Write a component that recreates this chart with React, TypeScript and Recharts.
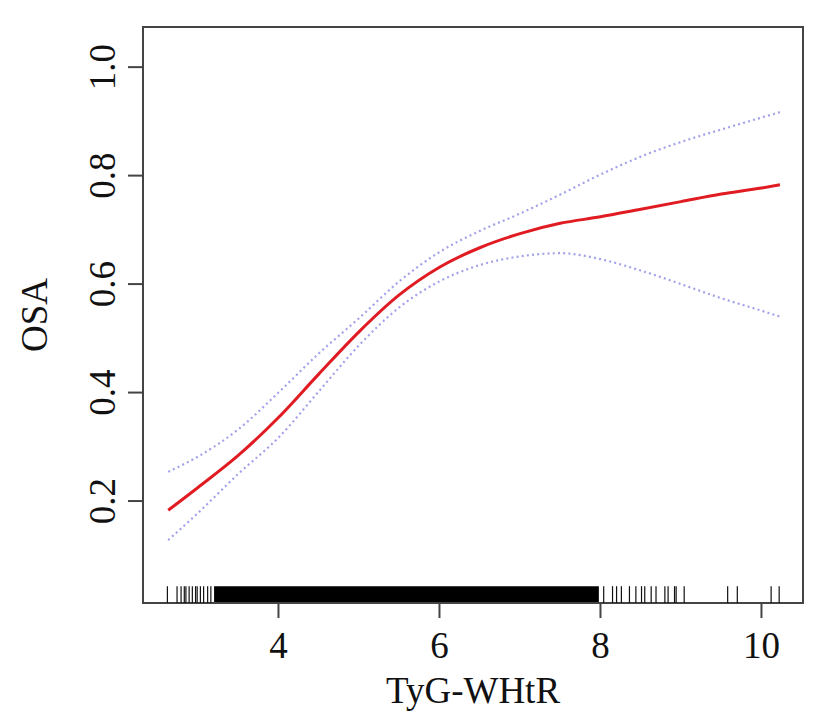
import { LineChart, Line, XAxis, YAxis, ReferenceArea, ReferenceLine } from 'recharts';

// x positions of the fitted curve (TyG-WHtR)
const xValues = [2.63, 3.0, 3.5, 4.0, 4.5, 5.0, 5.5, 6.0, 6.5, 7.0, 7.5, 8.0, 8.5, 9.0, 9.5, 10.0, 10.23];
// estimated probability of OSA
const fitValues = [0.183, 0.225, 0.284, 0.354, 0.434, 0.512, 0.58, 0.631, 0.667, 0.693, 0.712, 0.724, 0.738, 0.752, 0.766, 0.777, 0.783];
// 95% confidence band
const upperValues = [0.254, 0.282, 0.332, 0.4, 0.472, 0.537, 0.605, 0.659, 0.698, 0.73, 0.765, 0.802, 0.835, 0.862, 0.885, 0.907, 0.917];
const lowerValues = [0.128, 0.178, 0.25, 0.317, 0.402, 0.487, 0.557, 0.605, 0.635, 0.651, 0.657, 0.646, 0.625, 0.6, 0.574, 0.551, 0.54];

// rug: isolated observations, plus the range where they run together
const rugLeft = [2.62, 2.74, 2.79, 2.83, 2.85, 2.89, 2.93, 2.97, 2.99, 3.03, 3.07, 3.12, 3.16];
const rugRight = [8.04, 8.15, 8.2, 8.26, 8.36, 8.44, 8.51, 8.55, 8.63, 8.69, 8.8, 8.84, 8.92, 8.94, 9.04, 9.58, 9.7, 10.12, 10.22];
const rugDense = [3.2, 7.98];

const xTicks = [4, 6, 8, 10];
const yTicks = [0.2, 0.4, 0.6, 0.8, 1.0];

const X_MIN = 2.317;
const X_MAX = 10.516;
const Y_MIN = 0.012;
const Y_MAX = 1.074;
const RUG_TOP = 0.043;

const FONT = '"Liberation Serif", "Times New Roman", serif';

const data = xValues.map((x, i) => ({
  x,
  fit: fitValues[i],
  upper: upperValues[i],
  lower: lowerValues[i],
}));

const XTick = (props: any) => {
  const { x, y, payload } = props;
  return (
    <text x={x} y={y + 38} textAnchor="middle" fontFamily={FONT} fontSize={37} fill="#111">
      {payload.value}
    </text>
  );
};

const YTick = (props: any) => {
  const { x, y, payload } = props;
  const px = x - 11;
  return (
    <text x={px} y={y} transform={`rotate(-90, ${px}, ${y})`} textAnchor="middle" fontFamily={FONT} fontSize={37} fill="#111">
      {payload.value.toFixed(1)}
    </text>
  );
};

export default function App() {
  return (
    <div style={{ position: 'absolute', left: 0, top: 0, background: '#fff' }}>
      <LineChart width={827} height={728} data={data} margin={{ top: 27, right: 24, bottom: 0, left: 0 }}>
        <XAxis
          dataKey="x"
          type="number"
          domain={[X_MIN, X_MAX]}
          ticks={xTicks}
          allowDataOverflow
          axisLine={false}
          tickLine={{ stroke: '#444', strokeWidth: 2 }}
          tickSize={15}
          height={125}
          tick={<XTick />}
          label={{
            content: (p: any) => {
              const vb = p.viewBox;
              return (
                <text x={vb.x + vb.width / 2} y={vb.y + 100} textAnchor="middle" fontFamily={FONT} fontSize={37} fill="#111">
                  TyG-WHtR
                </text>
              );
            },
          }}
        />
        <YAxis
          type="number"
          domain={[Y_MIN, Y_MAX]}
          ticks={yTicks}
          allowDataOverflow
          axisLine={false}
          tickLine={{ stroke: '#444', strokeWidth: 2 }}
          tickSize={15}
          width={143}
          tick={<YTick />}
          label={{
            content: (p: any) => {
              const vb = p.viewBox;
              const lx = vb.x + 47;
              const ly = vb.y + vb.height / 2;
              return (
                <text x={lx} y={ly} transform={`rotate(-90, ${lx}, ${ly})`} textAnchor="middle" fontFamily={FONT} fontSize={37} fill="#111">
                  OSA
                </text>
              );
            },
          }}
        />
        <ReferenceArea x1={rugDense[0]} x2={rugDense[1]} y1={Y_MIN} y2={RUG_TOP} fill="#000" fillOpacity={1} stroke="none" />
        {[...rugLeft, ...rugRight].map((v) => (
          <ReferenceLine
            key={v}
            segment={[{ x: v, y: Y_MIN }, { x: v, y: RUG_TOP }]}
            stroke="#111"
            strokeWidth={1.2}
          />
        ))}
        <Line dataKey="upper" type="monotone" stroke="#a2a2ea" strokeWidth={2.2} strokeDasharray="2 3.2" dot={false} isAnimationActive={false} />
        <Line dataKey="lower" type="monotone" stroke="#a2a2ea" strokeWidth={2.2} strokeDasharray="2 3.2" dot={false} isAnimationActive={false} />
        <Line dataKey="fit" type="monotone" stroke="#e01b22" strokeWidth={3} dot={false} isAnimationActive={false} />
        <ReferenceArea x1={X_MIN} x2={X_MAX} y1={Y_MIN} y2={Y_MAX} fill="none" stroke="#444" strokeWidth={2} ifOverflow="visible" />
      </LineChart>
    </div>
  );
}
